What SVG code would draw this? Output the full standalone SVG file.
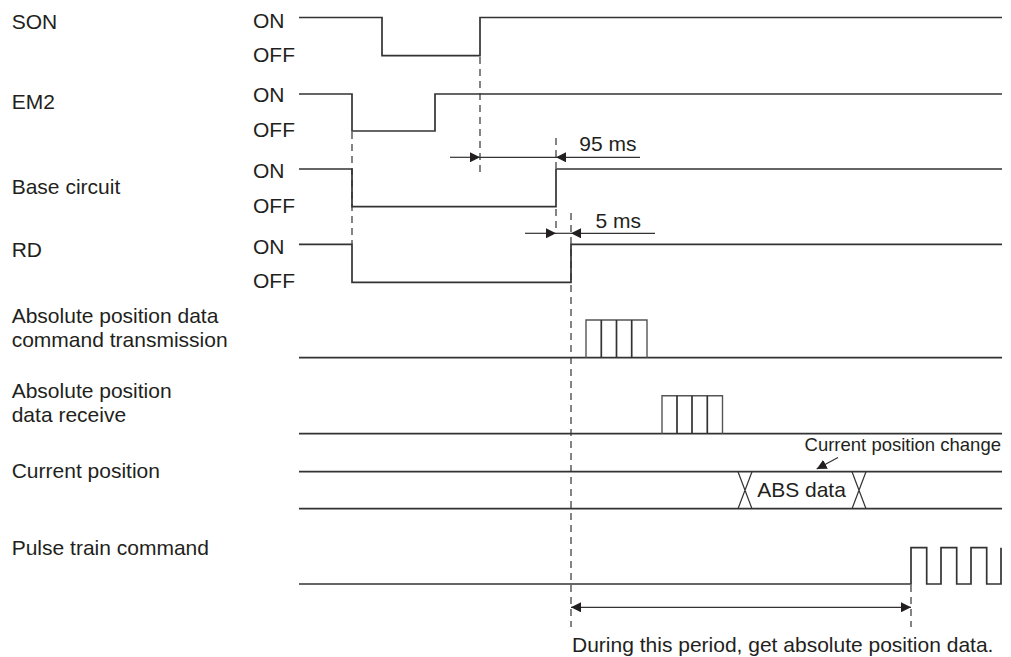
<svg xmlns="http://www.w3.org/2000/svg" width="1011" height="657" viewBox="0 0 1011 657">
<style>
text{font-family:"Liberation Sans",Arial,sans-serif;fill:#231f20;font-size:21px}
.sm{font-size:18.5px}
.sig{fill:none;stroke:#333;stroke-width:1.7}
.dash{fill:none;stroke:#333;stroke-width:1.2;stroke-dasharray:7 5}
.dim{fill:none;stroke:#333;stroke-width:1.2}
.blk{fill:none;stroke:#555;stroke-width:1.4}
</style>
<defs>
<marker id="ah" viewBox="0 0 10 10" refX="10" refY="5" markerWidth="10" markerHeight="10" markerUnits="userSpaceOnUse" orient="auto">
<path d="M0,0 L10,5 L0,10 Z" fill="#231f20"/>
</marker>
</defs>
<rect width="1011" height="657" fill="#fff"/>

<g id="son">
<text x="11.7" y="29.3">SON</text>
<text x="253" y="28.3">ON</text>
<text x="253" y="61.7">OFF</text>
<path class="sig" d="M299,17.5 H382 V55.7 H480 V17.5 H1002"/>
</g>
<g id="em2">
<text x="11.7" y="109">EM2</text>
<text x="253" y="102.3">ON</text>
<text x="253" y="136.7">OFF</text>
<path class="sig" d="M299,94 H352 V131 H435 V94 H1002"/>
</g>
<g id="base">
<text x="11.7" y="194.3">Base circuit</text>
<text x="253" y="178.3">ON</text>
<text x="253" y="213.3">OFF</text>
<path class="sig" d="M299,169 H352 V206.7 H556 V169 H1002"/>
</g>
<g id="rd">
<text x="11.7" y="257.3">RD</text>
<text x="253" y="254">ON</text>
<text x="253" y="288.3">OFF</text>
<path class="sig" d="M299,244.3 H352 V282.3 H571 V244.3 H1002"/>
</g>
<g id="abs-tx">
<text x="11.7" y="322.7">Absolute position data</text>
<text x="11.7" y="347">command transmission</text>
<path class="sig" d="M299,357.7 H1002"/>
<path class="blk" d="M586,357.7 V320 H647 V357.7"/>
<path class="sig" d="M601.3,320 V357.7 M616.5,320 V357.7 M631.7,320 V357.7"/>
</g>
<g id="abs-rx">
<text x="11.7" y="398.3">Absolute position</text>
<text x="11.7" y="421.7">data receive</text>
<path class="sig" d="M299,433.7 H1002"/>
<path class="blk" d="M662,433.7 V395.7 H722.5 V433.7"/>
<path class="sig" d="M677,395.7 V433.7 M692,395.7 V433.7 M707.3,395.7 V433.7"/>
</g>
<g id="curpos">
<text x="11.7" y="478.3">Current position</text>
<path class="sig" d="M299,471.7 H1002 M299,508.7 H1002"/>
<path class="dim" d="M738,471.7 L752,508.7 M752,471.7 L738,508.7 M852,471.7 L866,508.7 M866,471.7 L852,508.7"/>
<text x="801.5" y="497" text-anchor="middle">ABS data</text>
<text class="sm" x="1001" y="450.5" text-anchor="end">Current position change</text>
</g>
<g id="pulse">
<text x="11.7" y="555">Pulse train command</text>
<path class="sig" d="M299,584 H911 V547.7 H926.7 V584 H941 V547.7 H956.7 V584 H971 V547.7 H986.7 V584 H1001 V547.7"/>
</g>

<g id="connectors">
<path class="dash" d="M480,57 V177"/>
<path class="dash" d="M352,132 V244"/>
<path class="dash" d="M556,138 V168"/>
<path class="dash" d="M556,209 V234"/>
<path class="dash" d="M571,213 V627"/>
<path class="dash" d="M911,585 V627"/>
<path class="dim" d="M450,157.3 H480" marker-end="url(#ah)"/>
<path class="dim" d="M480,157.3 H556"/>
<path class="dim" d="M640,157.3 H556" marker-end="url(#ah)"/>
<text x="579.3" y="150.7">95 ms</text>
<path class="dim" d="M525,233.3 H556" marker-end="url(#ah)"/>
<path class="dim" d="M556,233.3 H571"/>
<path class="dim" d="M655,233.3 H571" marker-end="url(#ah)"/>
<text x="595.5" y="227.7">5 ms</text>
<path class="dim" d="M838,457.5 L816.7,469" marker-end="url(#ah)"/>
<path class="dim" d="M741,607.3 H571" marker-end="url(#ah)"/>
<path class="dim" d="M741,607.3 H911" marker-end="url(#ah)"/>
<text x="572" y="651.5">During this period, get absolute position data.</text>
</g>
</svg>
